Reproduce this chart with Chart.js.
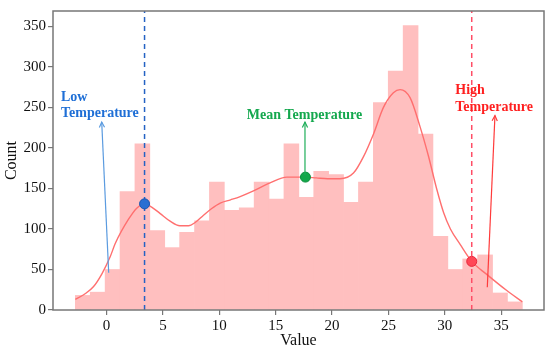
<!DOCTYPE html>
<html>
<head>
<meta charset="utf-8">
<script src="https://cdn.jsdelivr.net/npm/chart.js@4"></script>
<style>
  html, body { margin: 0; padding: 0; background: #fff; }
  canvas { display: block; }
</style>
</head>
<body>
<canvas id="chart" width="550" height="352"></canvas>
<script>
"use strict";

/* ============================================================
   DATA
============================================================ */
const binStart = -2.77;
const binWidth = 1.3217;
const counts = [18, 22, 50, 146, 205, 98, 77, 96, 110, 158, 123, 126, 158, 137, 205,
                139, 171, 167, 133, 158, 256, 295, 351, 217, 91, 50, 63, 68, 21, 10];

// smoothed density curve
const kdeX = [-2.77, -1.9, -1.15, -0.4, 0.33, 0.77, 1.95, 2.7, 3.37, 4.0, 4.76, 5.6, 6.5, 7.27,
              7.86, 8.6, 9.3, 10.08, 11.0, 11.85, 13.03, 14.5, 16.0, 17.64, 18.6, 19.6, 20.71,
              21.9, 22.78, 23.67, 24.56, 25.44, 26.04, 26.92, 27.81, 28.55, 29.29, 29.9, 30.5,
              31.36, 32.39, 33.72, 35.5, 36.88];
const kdeY = [13, 20, 29, 45, 66, 82, 112, 126, 131, 127, 119, 110, 104, 104,
              108, 117, 125, 132, 136, 140, 147, 157, 164, 164, 163, 162, 162,
              169, 189, 217, 250, 268, 272, 262, 226, 190, 149, 120, 100,
              81, 60, 44, 24, 10];

const lowTemp = 3.37, lowCount = 131;
const meanTemp = 17.64, meanCount = 164;
const highTemp = 32.39, highCount = 60;

const xTicks = [0, 5, 10, 15, 20, 25, 30, 35];
const yTicks = [0, 50, 100, 150, 200, 250, 300, 350];
const xRange = [-4.75, 38.8];
const yRange = [0, 369];

/* ============================================================
   ANNOTATIONS (data coordinates)
============================================================ */
const SERIF = "'Liberation Serif', 'Times New Roman', serif";
const notes = [
  { lines: ["Low", "Temperature"], x: -4.04, y: [258, 238], align: "left",
    color: "#1f6fd6", arrowColor: "#5b9be0", from: [0.19, 46], to: [-0.43, 232] },
  { lines: ["Mean Temperature"], x: 17.56, y: [236], align: "center",
    color: "#14a84e", arrowColor: "#1fae5a", from: [17.6, 167], to: [17.6, 232] },
  { lines: ["High", "Temperature"], x: 30.93, y: [267, 245.6], align: "left",
    color: "#ff1f1f", arrowColor: "#ff3b3b", from: [33.77, 28], to: [34.45, 240] }
];

/* ============================================================
   PLUGINS
============================================================ */
const framePlugin = {
  id: "frame",
  afterDatasetsDraw(chart) {
    const { ctx, chartArea: a } = chart;
    ctx.save();
    ctx.strokeStyle = "#777";
    ctx.lineWidth = 1.5;
    ctx.strokeRect(a.left, a.top, a.right - a.left, a.bottom - a.top);
    ctx.restore();
  }
};

const notesPlugin = {
  id: "notes",
  afterDraw(chart) {
    const { ctx } = chart;
    const xs = chart.scales.x, ys = chart.scales.y;
    ctx.save();
    notes.forEach(n => {
      // arrow shaft
      const x1 = xs.getPixelForValue(n.from[0]), y1 = ys.getPixelForValue(n.from[1]);
      const x2 = xs.getPixelForValue(n.to[0]), y2 = ys.getPixelForValue(n.to[1]);
      ctx.strokeStyle = n.arrowColor;
      ctx.lineWidth = 1.2;
      ctx.beginPath();
      ctx.moveTo(x1, y1);
      ctx.lineTo(x2, y2);
      ctx.stroke();
      // open arrow head
      const ang = Math.atan2(y2 - y1, x2 - x1);
      const len = 6, spread = 0.45;
      ctx.beginPath();
      ctx.moveTo(x2 - len * Math.cos(ang - spread), y2 - len * Math.sin(ang - spread));
      ctx.lineTo(x2, y2);
      ctx.lineTo(x2 - len * Math.cos(ang + spread), y2 - len * Math.sin(ang + spread));
      ctx.stroke();
      // label
      ctx.fillStyle = n.color;
      ctx.font = "bold 14px " + SERIF;
      ctx.textAlign = n.align;
      ctx.textBaseline = "alphabetic";
      n.lines.forEach((t, i) => {
        ctx.fillText(t, xs.getPixelForValue(n.x), ys.getPixelForValue(n.y[i]));
      });
    });
    ctx.restore();
  }
};

/* ============================================================
   CHART
============================================================ */
const barData = counts.map((c, i) => ({ x: binStart + binWidth * (i + 0.5), y: c }));
const kdeData = kdeX.map((x, i) => ({ x, y: kdeY[i] }));

function vline(x, color) {
  return {
    type: "line",
    data: [{ x, y: yRange[0] }, { x, y: yRange[1] }],
    borderColor: color,
    borderWidth: 1.5,
    borderDash: [5, 4],
    pointRadius: 0,
    order: 3
  };
}

function dot(x, y, fill, border) {
  return {
    type: "scatter",
    data: [{ x, y }],
    backgroundColor: fill,
    borderColor: border,
    borderWidth: 1,
    pointRadius: 5,
    order: 1
  };
}

new Chart(document.getElementById("chart").getContext("2d"), {
  data: {
    datasets: [
      {
        type: "bar",
        data: barData,
        backgroundColor: "#ffbfbf",
        borderWidth: 0,
        barPercentage: 1,
        categoryPercentage: 1,
        grouped: false,
        order: 5
      },
      {
        type: "line",
        data: kdeData,
        borderColor: "#ff6f6f",
        borderWidth: 1.4,
        pointRadius: 0,
        cubicInterpolationMode: "monotone",
        order: 4
      },
      vline(lowTemp, "#2462c4"),
      vline(highTemp, "#ff4d66"),
      dot(lowTemp, lowCount, "#2a6fd2", "#1c57b0"),
      dot(meanTemp, meanCount, "#12a84a", "#0e8f3e"),
      dot(highTemp, highCount, "#ff4757", "#e8283c")
    ]
  },
  options: {
    responsive: false,
    devicePixelRatio: 1,
    animation: false,
    layout: { padding: { top: 5, right: 6, left: 0, bottom: 0 } },
    plugins: { legend: { display: false }, tooltip: { enabled: false } },
    scales: {
      x: {
        type: "linear",
        offset: false,
        min: xRange[0],
        max: xRange[1],
        afterBuildTicks: s => { s.ticks = xTicks.map(v => ({ value: v })); },
        afterFit: s => { s.height = 42; },
        border: { display: false },
        grid: { offset: false, drawOnChartArea: false, drawTicks: true, tickLength: 5, color: "#777", lineWidth: 1.2 },
        ticks: { color: "#111", padding: 2, font: { family: SERIF, size: 15 } },
        title: { display: true, text: "Value", color: "#111", padding: { top: 0, bottom: 2 },
                 font: { family: SERIF, size: 16 } }
      },
      y: {
        type: "linear",
        min: yRange[0],
        max: yRange[1],
        afterBuildTicks: s => { s.ticks = yTicks.map(v => ({ value: v })); },
        afterFit: s => { s.width = 53; },
        border: { display: false },
        grid: { drawOnChartArea: false, drawTicks: true, tickLength: 5, color: "#777", lineWidth: 1.2 },
        ticks: { color: "#111", padding: 2, font: { family: SERIF, size: 15 } },
        title: { display: true, text: "Count", color: "#111", padding: { top: 2, bottom: 0 },
                 font: { family: SERIF, size: 16 } }
      }
    }
  },
  plugins: [framePlugin, notesPlugin]
});
</script>
</body>
</html>
